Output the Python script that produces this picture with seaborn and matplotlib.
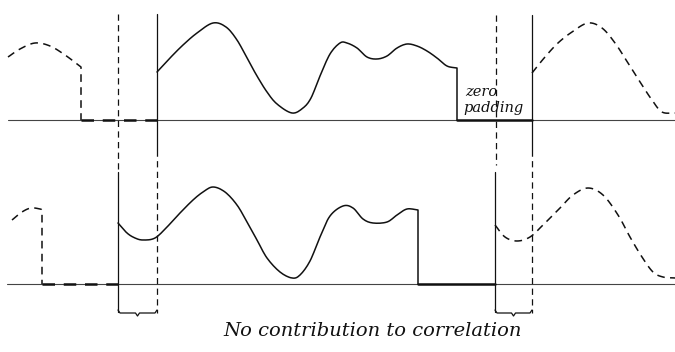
import matplotlib
matplotlib.use("Agg")
import matplotlib.pyplot as plt
import seaborn as sns
import pandas as pd
import numpy as np

# ---------------- data (pixel coordinates) ----------------
top_left_x = [8, 20, 35, 50, 65, 81]
top_left_y = [57, 49, 43, 46, 55, 67]

top_main_x = [157, 170, 183, 197, 213, 226, 237, 247, 257, 267, 277, 292, 303, 311,
              320, 330, 340, 347, 357, 367, 377, 387, 397, 407, 417, 427, 437, 447, 457]
top_main_y = [72, 58, 45, 33, 23, 27, 40, 58, 76, 92, 104, 113, 108, 98,
              76, 54, 43, 43, 48, 57, 59, 56, 48, 44, 46, 51, 58, 66, 68]

top_right_x = [532, 545, 558, 572, 588, 602, 615, 628, 642, 652, 662, 675]
top_right_y = [73, 57, 43, 32, 23, 28, 43, 63, 85, 100, 112, 113]

bot_left_x = [12, 22, 31, 40, 42]
bot_left_y = [220, 212, 208, 209, 210]

bot_main_x = [118, 127, 135, 143, 155, 167, 180, 193, 203, 213, 225, 237, 247, 257, 267,
              280, 292, 300, 310, 320, 330, 343, 353, 363, 373, 387, 397, 407, 418]
bot_main_y = [223, 233, 238, 240, 238, 227, 213, 200, 192, 187, 192, 205, 222, 240, 258,
              272, 278, 275, 261, 237, 216, 206, 208, 219, 223, 222, 215, 209, 210]

bot_right_x = [495, 505, 517, 530, 543, 560, 573, 588, 603, 618, 630, 642, 653, 663, 675]
bot_right_y = [225, 237, 241, 237, 225, 208, 195, 188, 195, 215, 237, 257, 272, 277, 278]

zero_top_dashed = [81, 157]
zero_top_solid = [457, 532]
zero_bot_dashed = [42, 118]
zero_bot_solid = [418, 495]

label_pad = ["zero", "padding"]
caption = "No contribution to correlation"

# ---------------- figure ----------------
sns.set_theme(style="white")
plt.rcParams['font.family'] = ['DejaVu Serif']

W, H = 675, 352
TOP0, BOT0 = 120, 284
fig = plt.figure(figsize=(6.75, 3.52), dpi=100)
ax = fig.add_axes([0, 0, 1, 1])

DASH = (0, (5, 3.5))
K = "#111111"


def smooth(xs, ys, n=8):
    """Catmull-Rom rendering of a smooth stroke through the read points."""
    p = np.column_stack([xs, ys]).astype(float)
    p = np.vstack([2 * p[0] - p[1], p, 2 * p[-1] - p[-2]])
    out = []
    t = np.linspace(0, 1, n, endpoint=False)[:, None]
    for i in range(1, len(p) - 2):
        p0, p1, p2, p3 = p[i - 1], p[i], p[i + 1], p[i + 2]
        seg = 0.5 * ((2 * p1) + (-p0 + p2) * t + (2 * p0 - 5 * p1 + 4 * p2 - p3) * t ** 2
                     + (-p0 + 3 * p1 - 3 * p2 + p3) * t ** 3)
        out.append(seg)
    out.append(p[-2][None, :])
    out = np.vstack(out)
    return out[:, 0], out[:, 1]


def curve(xs, ys, dashed=False, lw=1.1, drop=None):
    sx, sy = smooth(xs, ys) if len(xs) > 2 else (np.array(xs, float), np.array(ys, float))
    if drop is not None:
        sx = np.append(sx, xs[-1]); sy = np.append(sy, drop)
    df = pd.DataFrame({"x": sx, "y": sy})
    kw = dict(color=K, lw=lw, linestyle=DASH if dashed else "-")
    sns.lineplot(data=df, x="x", y="y", ax=ax, sort=False, estimator=None, **kw)


# baselines
ax.plot([8, 675], [TOP0, TOP0], color="#444444", lw=0.8)
ax.plot([7, 675], [BOT0, BOT0], color="#444444", lw=0.8)

# signals
curve(top_left_x, top_left_y, dashed=True, drop=TOP0)
curve(top_main_x, top_main_y, drop=TOP0)
curve(top_right_x, top_right_y, dashed=True)
curve(bot_left_x, bot_left_y, dashed=True, drop=BOT0)
curve(bot_main_x, bot_main_y, drop=BOT0)
curve(bot_right_x, bot_right_y, dashed=True)

# zero padding segments (thicker)
curve(zero_top_dashed, [TOP0, TOP0], dashed=True, lw=1.8)
curve(zero_top_solid, [TOP0, TOP0], lw=1.8)
curve(zero_bot_dashed, [BOT0, BOT0], dashed=True, lw=1.8)
curve(zero_bot_solid, [BOT0, BOT0], lw=1.8)

# window boundaries
ax.plot([118, 118], [14, 172], color=K, lw=0.9, linestyle=DASH)
ax.plot([118, 118], [172, 312], color=K, lw=0.9)
ax.plot([157, 157], [14, 150], color=K, lw=0.9)
ax.plot([157, 157], [150, 313], color=K, lw=0.9, linestyle=DASH)
ax.plot([496, 496], [15, 165], color=K, lw=0.9, linestyle=DASH)
ax.plot([495, 495], [172, 312], color=K, lw=0.9)
ax.plot([532, 532], [15, 150], color=K, lw=0.9)
ax.plot([532, 532], [150, 313], color=K, lw=0.9, linestyle=DASH)

# braces
for a, b in [(118, 157), (495, 532)]:
    m = (a + b) / 2
    ax.plot([a, a + 2, m - 2, m, m + 2, b - 2, b],
            [310, 313, 313, 316, 313, 313, 310], color=K, lw=0.9)

# text
ax.text(465, 92, label_pad[0], fontsize=10.5, style="italic", ha="left", va="center", color=K)
ax.text(463, 108, label_pad[1], fontsize=10.5, style="italic", ha="left", va="center", color=K)
ax.text(373, 331, caption, fontsize=14, style="italic", ha="center", va="center", color=K)

ax.set_xlim(0, W)
ax.set_ylim(H, 0)
ax.axis("off")
fig.savefig("out.png", dpi=100, facecolor="white")
